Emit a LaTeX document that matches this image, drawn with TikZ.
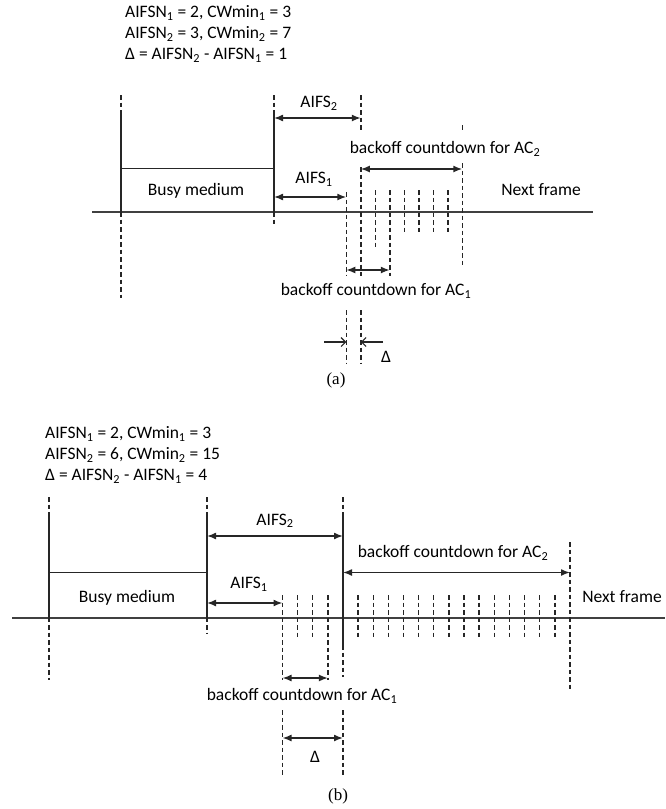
\documentclass[tikz,border=0pt]{standalone}
\usepackage{fontspec}
\setmainfont{Carlito}
\newfontfamily\capfont{Liberation Serif}
\usetikzlibrary{arrows.meta}
\tikzset{
  txt/.style={anchor=base, inner sep=1pt, font=\fontsize{17.5}{21}\selectfont},
  captxt/.style={anchor=base, inner sep=1pt, font=\capfont\fontsize{17}{20}\selectfont},
  dsh/.style={line width=1.4pt, black!85, dash pattern=on 4.5pt off 3pt},
  sld/.style={line width=1.5pt, black!85},
  axis line/.style={line width=2pt, black!75},
  dimarrow/.style={line width=1.5pt, black!85, {Latex[length=9pt,width=7pt]}-{Latex[length=9pt,width=7pt]}},
  deltaarrow/.style={line width=1.1pt, black!85, -{Straight Barb[length=4.5pt,width=9pt]}},
}
\begin{document}
\begin{tikzpicture}[x=1pt,y=-1pt]
\useasboundingbox (0,0) rectangle (665,809);
\node[txt, anchor=base west] (ha1) at (124,17.5) {AIFSN\textsubscript{1} = 2, CWmin\textsubscript{1} = 3};
\node[txt, anchor=base west] (ha2) at (124,38.5) {AIFSN\textsubscript{2} = 3, CWmin\textsubscript{2} = 7};
\node[txt, anchor=base west] (ha3) at (124,59.5) {Δ = AIFSN\textsubscript{2} - AIFSN\textsubscript{1} = 1};
\draw[axis line] (92,212) -- (593,212);
\draw[dsh] (121,95) -- (121,112);
\draw[sld] (121,112) -- (121,212);
\draw[dsh] (121,212) -- (121,298);
\draw[sld] (121,168.5) -- (274,168.5);
\draw[dsh] (274,95) -- (274,112);
\draw[sld] (274,112) -- (274,212);
\draw[dsh] (274,212) -- (274,227);
\draw[dsh] (360.8,95) -- (360.8,132);
\draw[dsh] (360.8,167) -- (360.8,276);
\draw[dsh] (462.3,125) -- (462.3,131);
\draw[dsh] (462.3,163) -- (462.3,267);
\draw[dsh] (346.3,192) -- (346.3,276);
\foreach \i/\b in {2/246.5, 3/276, 4/233, 5/233, 6/233, 7/233}
  \draw[dsh] (346.3+\i*14.5,190) -- (346.3+\i*14.5,\b);
\draw[dimarrow] (274,118) -- (360.8,118);
\draw[dimarrow] (360.8,169) -- (462.3,169);
\draw[dimarrow] (274,197) -- (346.3,197);
\draw[dimarrow] (346.3,270) -- (389.8,270);
\draw[dsh] (346.3,310) -- (346.3,363);
\draw[dsh] (360.8,310) -- (360.8,363);
\draw[deltaarrow] (324,342) -- (346.3,342);
\draw[deltaarrow] (383,342) -- (360.8,342);
\node[txt] (busya) at (196,195.5) {Busy medium};
\node[txt] (aifs2a) at (319,107.5) {AIFS\textsubscript{2}};
\node[txt] (aifs1a) at (314,183.5) {AIFS\textsubscript{1}};
\node[txt] (bca2) at (445,153.5) {backoff countdown for AC\textsubscript{2}};
\node[txt] (nexta) at (541,195.5) {Next frame};
\node[txt] (bca1) at (376,295.5) {backoff countdown for AC\textsubscript{1}};
\node[txt] (deltaa) at (386,362.5) {Δ};
\node[captxt] (capa) at (336,384.5) {(a)};
\node[txt, anchor=base west] (hb1) at (44,438.5) {AIFSN\textsubscript{1} = 2, CWmin\textsubscript{1} = 3};
\node[txt, anchor=base west] (hb2) at (44,459.5) {AIFSN\textsubscript{2} = 6, CWmin\textsubscript{2} = 15};
\node[txt, anchor=base west] (hb3) at (44,480.5) {Δ = AIFSN\textsubscript{2} - AIFSN\textsubscript{1} = 4};
\draw[axis line] (12,617.7) -- (665,617.7);
\draw[dsh] (49,497) -- (49,513);
\draw[sld] (49,513) -- (49,617.7);
\draw[dsh] (49,617.7) -- (49,680);
\draw[sld] (49,572.5) -- (207,572.5);
\draw[dsh] (207,497) -- (207,513);
\draw[sld] (207,513) -- (207,617.7);
\draw[dsh] (207,617.7) -- (207,633);
\draw[dsh] (343,497) -- (343,515);
\draw[sld] (343,515) -- (343,645);
\draw[dsh] (343,645) -- (343,677);
\draw[dsh] (570,542) -- (570,690);
\foreach \x/\b in {282.5/680, 297.6/640, 312.7/640, 327.9/680}
  \draw[dsh] (\x,595) -- (\x,\b);
\foreach \i in {1,...,14}
  \draw[dsh] (343+\i*15.13,595) -- (343+\i*15.13,640);
\draw[dimarrow] (207,536) -- (343,536);
\draw[dimarrow] (343,572.5) -- (570,572.5);
\draw[dimarrow] (207,603) -- (282.5,603);
\draw[dimarrow] (282.5,678) -- (327.9,678);
\draw[dsh] (282.5,710) -- (282.5,775);
\draw[dsh] (343,710) -- (343,775);
\draw[dimarrow] (282.5,738) -- (343,738);
\node[txt] (busyb) at (127,602.5) {Busy medium};
\node[txt] (aifs2b) at (275,525) {AIFS\textsubscript{2}};
\node[txt] (aifs1b) at (249,588.5) {AIFS\textsubscript{1}};
\node[txt] (bcb2) at (453,557.5) {backoff countdown for AC\textsubscript{2}};
\node[txt] (nextb) at (622,602.5) {Next frame};
\node[txt] (bcb1) at (302,700.5) {backoff countdown for AC\textsubscript{1}};
\node[txt] (deltab) at (315,762.5) {Δ};
\node[captxt] (capb) at (338,800.5) {(b)};
\end{tikzpicture}
\end{document}
